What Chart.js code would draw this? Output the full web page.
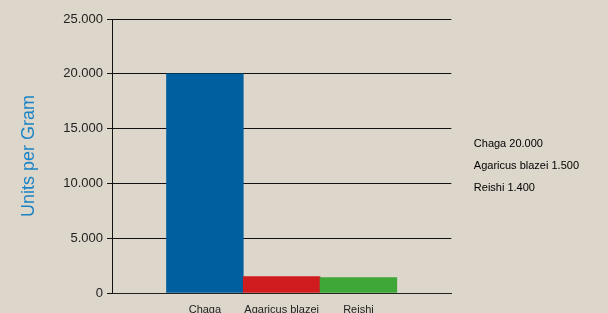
<!DOCTYPE html>
<html><head><meta charset="utf-8">
<script src="https://cdn.jsdelivr.net/npm/chart.js@4/dist/chart.umd.min.js"></script>
<style>
html,body{margin:0;padding:0;background:#ddd6cb;}
#wrap{width:608px;height:313px;position:relative;}
</style></head>
<body><div id="wrap"><canvas id="c"></canvas></div>
<script>
const categories = ['Chaga', 'Agaricus blazei', 'Reishi'];
const unitsPerGram = [20000, 1500, 1400];
const barColors = ['#005f9f', '#d01c1f', '#3fa638'];
const yTicks = [0, 5000, 10000, 15000, 20000, 25000];
const yTitle = 'Units per Gram';

const fmt = v => String(v).replace(/\B(?=(\d{3})+(?!\d))/g, '.');
const FONT = "'Liberation Sans', Arial, Helvetica, sans-serif";

new Chart(document.getElementById('c'), {
  type: 'bar',
  data: {
    datasets: [{
      data: categories.map((c, i) => ({x: i + 1, y: unitsPerGram[i]})),
      backgroundColor: barColors,
      borderWidth: 0,
      categoryPercentage: 1,
      barPercentage: 1
    }]
  },
  options: {
    responsive: true,
    maintainAspectRatio: false,
    animation: false,
    layout: {padding: {top: 19, right: 19, bottom: 0, left: 0}},
    plugins: {
      tooltip: {enabled: false},
      legend: {
        display: true,
        position: 'right',
        align: 'center',
        labels: {
          boxWidth: 6, boxHeight: 0, padding: 11,
          color: '#222',
          font: {family: FONT, size: 11},
          generateLabels: () => categories.map((c, i) => ({
            text: c + ' ' + fmt(unitsPerGram[i]),
            fillStyle: 'rgba(0,0,0,0)', strokeStyle: 'rgba(0,0,0,0)',
            lineWidth: 0, hidden: false, datasetIndex: 0, index: i
          }))
        }
      }
    },
    scales: {
      x: {
        type: 'linear',
        min: 2 - 339 / 76.7 / 2,
        max: 2 + 339 / 76.7 / 2,
        offset: false,
        grid: {display: false},
        border: {display: true, color: '#222', width: 1},
        afterBuildTicks: s => { s.ticks = categories.map((c, i) => ({value: i + 1})); },
        afterFit: s => { s.height = 20; },
        ticks: {
          autoSkip: false, maxRotation: 0,
          padding: 2,
          color: '#222',
          font: {family: FONT, size: 11},
          callback: v => categories[v - 1] || ''
        }
      },
      y: {
        min: 0, max: 25000,
        afterBuildTicks: s => { s.ticks = yTicks.map(v => ({value: v})); },
        afterFit: s => { s.width = 112; },
        grid: {color: '#111', lineWidth: 1, drawTicks: true, tickLength: 5},
        border: {display: true, color: '#111', width: 1},
        ticks: {
          padding: 4,
          color: '#222',
          font: {family: FONT, size: 13},
          callback: v => fmt(v)
        },
        title: {
          display: true, text: yTitle,
          color: '#1a84c6',
          font: {family: FONT, size: 18},
          padding: {top: 18, bottom: 0}
        }
      }
    }
  }
});
</script></body></html>
